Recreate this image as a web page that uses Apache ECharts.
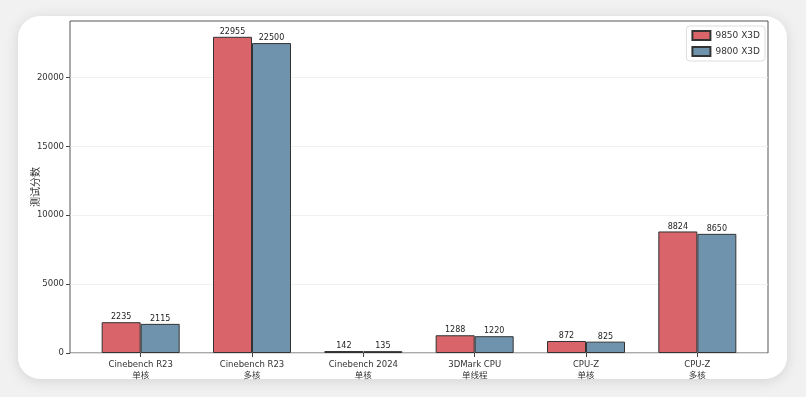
<!DOCTYPE html>
<html>
<head>
<meta charset="utf-8">
<script src="https://cdn.jsdelivr.net/npm/echarts@6/dist/echarts.min.js"></script>
<style>
  html, body { margin: 0; padding: 0; background: #f1f1f1; }
  #card {
    position: absolute; left: 18px; top: 16px; width: 769px; height: 363px;
    background: #fff; border-radius: 22px;
    box-shadow: 0 2px 14px rgba(0, 0, 0, 0.12);
  }
  #chart { position: absolute; left: 0; top: 0; width: 806px; height: 397px; }
</style>
</head>
<body>
<div id="card"></div>
<div id="chart"></div>
<script>
// 测试项目
const categories = [
  "Cinebench R23\n单核",
  "Cinebench R23\n多核",
  "Cinebench 2024\n单核",
  "3DMark CPU\n单线程",
  "CPU-Z\n单核",
  "CPU-Z\n多核",
];
const seriesNames = ["9850 X3D", "9800 X3D"];
const scores9850 = [2235, 22955, 142, 1288, 872, 8824];
const scores9800 = [2115, 22500, 135, 1220, 825, 8650];
const yTicks = [0, 5000, 10000, 15000, 20000];

const FONT = "'DejaVu Sans', 'Noto Sans CJK SC', sans-serif";
const yMax = Math.max(...scores9850, ...scores9800) * 1.05; // matplotlib 默认边距

const chart = echarts.init(document.getElementById("chart"));

const barStyle = (color) => ({
  color: color,
  borderColor: "#333",
  borderWidth: 1,
});

const option = {
  animation: false,
  textStyle: { fontFamily: FONT },
  grid: [
    // 外框 + y 轴
    { left: 70, right: 38, top: 21, bottom: 44, show: true, borderColor: "#555", borderWidth: 1, z: 0 },
    // 柱子所在的分类轴
    { left: 85, width: 668, top: 21, bottom: 44 },
  ],
  legend: {
    right: 41,
    top: 26,
    orient: "vertical",
    itemWidth: 18,
    itemHeight: 9,
    itemGap: 5,
    padding: [4, 5, 4, 5],
    backgroundColor: "#fff",
    borderColor: "#ddd",
    borderWidth: 1,
    borderRadius: 3,
    textStyle: { fontSize: 9, color: "#333", fontFamily: FONT },
    data: seriesNames.map((n) => ({ name: n, icon: "rect" })),
  },
  xAxis: [
    {
      gridIndex: 0,
      type: "value",
      min: 0,
      max: 1,
      show: false,
    },
    {
      gridIndex: 1,
      type: "category",
      data: categories,
      axisLine: { show: false },
      axisTick: { show: true, alignWithLabel: true, length: 4, lineStyle: { color: "#444" } },
      axisLabel: {
        fontSize: 8.5,
        color: "#333",
        lineHeight: 11,
        margin: 6,
        interval: 0,
      },
    },
  ],
  yAxis: [
    {
      gridIndex: 0,
      type: "value",
      min: 0,
      max: yMax,
      interval: 5000,
      name: "测试分数",
      nameLocation: "middle",
      nameRotate: 90,
      nameGap: 29,
      nameMoveOverlap: false,
      nameTextStyle: { fontSize: 10, color: "#333" },
      axisLine: { show: false },
      axisTick: {
        show: true,
        length: 4,
        lineStyle: { color: "#444" },
        customValues: yTicks,
      },
      axisLabel: {
        fontSize: 8.5,
        color: "#333",
        margin: 6,
        customValues: yTicks,
        formatter: (v) => String(v),
      },
      splitLine: { show: true, lineStyle: { color: "#ececec", width: 0.8 } },
    },
    {
      gridIndex: 1,
      type: "value",
      min: 0,
      max: yMax,
      show: false,
    },
  ],
  series: [
    {
      name: seriesNames[0],
      type: "bar",
      xAxisIndex: 1,
      yAxisIndex: 1,
      barWidth: 39,
      barGap: "0%",
      itemStyle: barStyle("#d9656a"),
      label: { show: true, position: "top", distance: 1, fontSize: 8, color: "#222" },
      data: scores9850,
      z: 3,
    },
    {
      name: seriesNames[1],
      type: "bar",
      xAxisIndex: 1,
      yAxisIndex: 1,
      barWidth: 39,
      barGap: "0%",
      itemStyle: barStyle("#6f93ad"),
      label: { show: true, position: "top", distance: 1, fontSize: 8, color: "#222" },
      data: scores9800,
      z: 3,
    },
  ],
};

chart.setOption(option);
</script>
</body>
</html>
